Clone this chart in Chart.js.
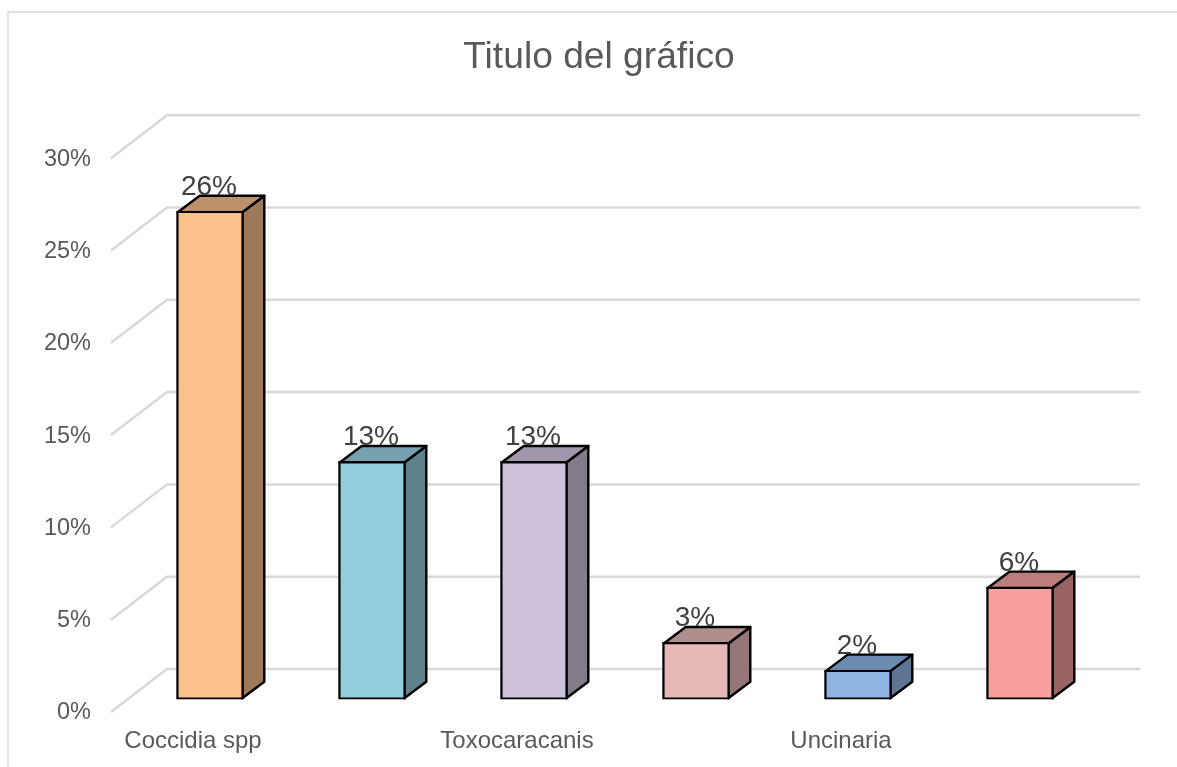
<!DOCTYPE html>
<html>
<head>
<meta charset="utf-8">
<style>html,body{margin:0;padding:0;background:#fff}canvas{display:block}</style>
<script src="https://cdn.jsdelivr.net/npm/chart.js@4"></script>
</head>
<body>
<canvas id="c" width="1177" height="767"></canvas>
<script>
const chartTitle = 'Titulo del gráfico';
const categories = ['Coccidia spp', '', 'Toxocaracanis', '', 'Uncinaria', ''];
const values = [26.46, 12.9, 12.9, 3.1, 1.6, 6.1];
const frontColors = ['#FBC18C', '#92CDDC', '#CEC2DC', '#E6B9B8', '#8DB4E2', '#F7A09E'];
const sideColors = ['#9E795A', '#5E828C', '#817B8A', '#937675', '#5E7694', '#996564'];
const topColors = ['#BD916B', '#76A2AF', '#A096AE', '#B08E8D', '#6C8BB0', '#BC7E7B'];

const FONT = '"Liberation Sans", Arial, sans-serif';
const GRID = '#d9d9d9';
const depthX = 22, depthY = 16.5;        // bar depth
const wallFrontX = 111, wallBackX = 167, wallEndX = 1140; // floor/wall projection
const wallFrontDy = 12.5, wallBackDy = -30.5;
const stroke = 2.4;

const frame = {
  id: 'frame',
  beforeDraw(chart) {
    const c = chart.ctx;
    c.save();
    c.fillStyle = '#fff';
    c.fillRect(0, 0, chart.width, chart.height);
    c.strokeStyle = GRID;
    c.lineWidth = 1.5;
    c.beginPath();
    c.moveTo(8, chart.height);
    c.lineTo(8, 12);
    c.lineTo(chart.width, 12);
    c.stroke();
    c.restore();
  }
};

const wall3d = {
  id: 'wall3d',
  beforeDatasetsDraw(chart) {
    const c = chart.ctx, y = chart.scales.y;
    c.save();
    c.strokeStyle = GRID;
    c.lineWidth = 2.5;
    c.lineJoin = 'round';
    y.ticks.forEach(t => {
      const p = y.getPixelForValue(t.value);
      c.beginPath();
      c.moveTo(wallFrontX, p + wallFrontDy);
      c.lineTo(wallBackX, p + wallBackDy);
      c.lineTo(wallEndX, p + wallBackDy);
      c.stroke();
    });
    // side and top faces of each bar, from the library's bar elements
    c.strokeStyle = '#000';
    c.lineWidth = stroke;
    c.lineJoin = 'round';
    const inset = stroke / 2;
    chart.getDatasetMeta(0).data.forEach((b, i) => {
      const r = b.x + b.width / 2 - inset, l = b.x - b.width / 2 + inset, t = b.y + inset, bot = b.base - inset;
      c.fillStyle = sideColors[i];
      c.beginPath();
      c.moveTo(r, t); c.lineTo(r + depthX, t - depthY);
      c.lineTo(r + depthX, bot - depthY); c.lineTo(r, bot);
      c.closePath(); c.fill(); c.stroke();
      c.fillStyle = topColors[i];
      c.beginPath();
      c.moveTo(l, t); c.lineTo(l + depthX, t - depthY);
      c.lineTo(r + depthX, t - depthY); c.lineTo(r, t);
      c.closePath(); c.fill(); c.stroke();
    });
    c.restore();
  },
  afterDatasetsDraw(chart) {
    const c = chart.ctx;
    c.save();
    c.fillStyle = '#404040';
    c.font = '28px ' + FONT;
    c.textAlign = 'center';
    c.textBaseline = 'middle';
    chart.getDatasetMeta(0).data.forEach((b, i) => {
      c.fillText(values[i].toFixed(0) + '%', b.x - 1, b.y - 24);
    });
    c.restore();
  }
};

new Chart(document.getElementById('c'), {
  type: 'bar',
  data: {
    labels: categories,
    datasets: [{
      data: values,
      backgroundColor: frontColors,
      borderColor: '#000',
      borderWidth: stroke,
      borderSkipped: false,
      barThickness: 67
    }]
  },
  plugins: [frame, wall3d],
  options: {
    responsive: false,
    animation: false,
    layout: { padding: { left: 21, right: 0, top: 0, bottom: 0 } },
    plugins: {
      legend: { display: false },
      tooltip: { enabled: false },
      title: {
        display: true,
        text: chartTitle,
        color: '#595959',
        font: { family: FONT, size: 37.2, weight: 'normal' },
        padding: { top: 35, bottom: 66 }
      }
    },
    scales: {
      x: {
        grid: { display: false },
        border: { display: false },
        afterFit(s) { s.height = 67.5; },
        ticks: {
          autoSkip: false, maxRotation: 0, minRotation: 0,
          color: '#595959',
          font: { family: FONT, size: 24 },
          padding: 19,
          labelOffset: -17
        }
      },
      y: {
        min: 0, max: 30,
        grid: { display: false, drawTicks: false },
        border: { display: false },
        afterFit(s) { s.width = 108; },
        ticks: {
          stepSize: 5,
          color: '#595959',
          font: { family: FONT, size: 23.5 },
          padding: 38,
          labelOffset: 13.5,
          callback: v => v + '%'
        }
      },
      spacer: {
        position: 'right',
        grid: { display: false, drawTicks: false },
        border: { display: false },
        ticks: { display: false },
        afterFit(s) { s.width = 76; }
      }
    }
  }
});
</script>
</body>
</html>
